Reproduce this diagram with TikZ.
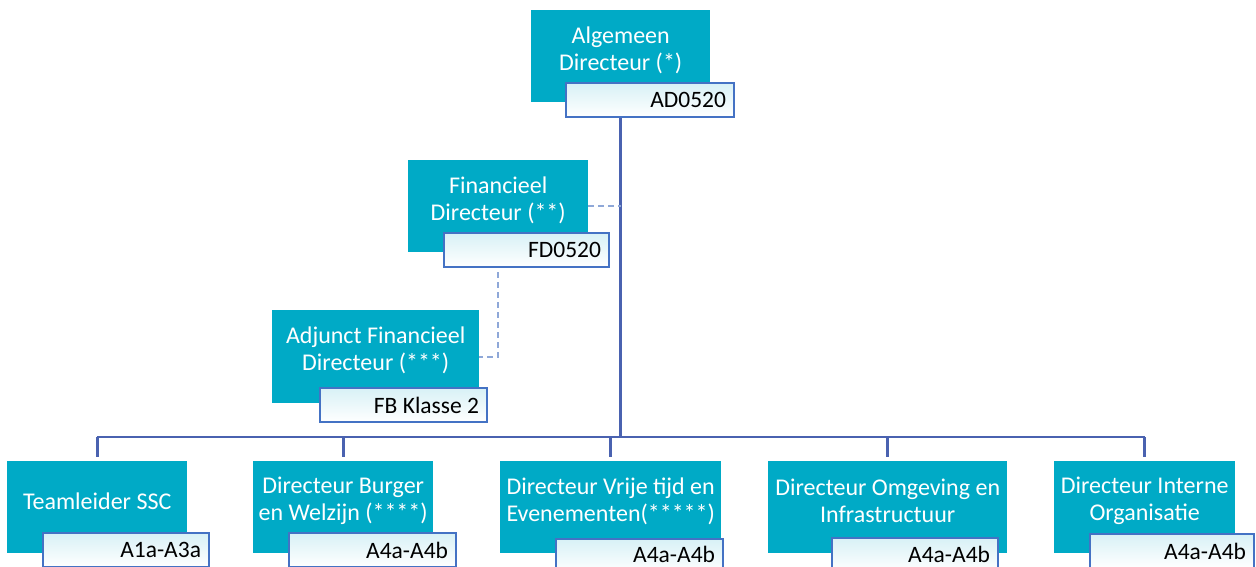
\documentclass[tikz,border=0pt]{standalone}
\usepackage{fontspec}
\setmainfont{Carlito}
\usetikzlibrary{backgrounds}
\definecolor{tealbox}{RGB}{0,170,198}
\definecolor{connc}{RGB}{74,98,176}
\definecolor{lblborder}{RGB}{68,114,196}
\definecolor{lblfill}{RGB}{216,241,246}
\definecolor{dashc}{RGB}{143,168,216}
\begin{document}
\begin{tikzpicture}[x=1pt,y=-1pt,
  box/.style={fill=tealbox, draw=none, anchor=north west, inner sep=0, minimum height=92pt},
  boxtext/.style={text=white, align=center, inner sep=0, font=\fontsize{24}{27}\selectfont},
  lbl/.style={draw=lblborder, line width=2.2pt, top color=lblfill, middle color=lblfill!85, bottom color=white, anchor=north west, inner sep=0, minimum height=34pt},
  lbltext/.style={anchor=east, font=\fontsize{23.5}{27}\selectfont, text=black, inner sep=0},
  conn/.style={draw=connc, line width=2.8pt},
  dashconn/.style={draw=dashc, line width=1.6pt, dash pattern=on 6pt off 4pt}]
\useasboundingbox (0,0) rectangle (1256,567);

% teal boxes
\node[box, minimum width=179pt] (ad) at (531,10) {};
\node[box, minimum width=180pt] (fd) at (408,160) {};
\node[box, minimum width=207pt, minimum height=93pt] (adj) at (272,310) {};
\node[box, minimum width=180pt] (tl) at (7,461) {};
\node[box, minimum width=180pt] (bw) at (253,461) {};
\node[box, minimum width=221pt] (vt) at (500,461) {};
\node[box, minimum width=239pt] (oi) at (768,461) {};
\node[box, minimum width=181pt] (io) at (1054,461) {};

% box texts
\node[boxtext] (adt) at ([yshift=6pt]ad.center) {Algemeen\\Directeur (*)};
\node[boxtext] (fdt) at ([yshift=6pt]fd.center) {Financieel\\Directeur (**)};
\node[boxtext] (adjt) at ([yshift=6pt]adj.center) {Adjunct Financieel\\Directeur (***)};
\node[boxtext] (tlt) at ([yshift=6pt]tl.center) {Teamleider SSC};
\node[boxtext] (bwt) at ([yshift=6pt]bw.center) {Directeur Burger\\en Welzijn (****)};
\node[boxtext] (vtt) at ([yshift=6pt]vt.center) {Directeur Vrije tijd en\\Evenementen(*****)};
\node[boxtext] (oit) at ([yshift=6pt]oi.center) {Directeur Omgeving en\\Infrastructuur};
\node[boxtext] (iot) at ([yshift=6pt]io.center) {Directeur Interne\\Organisatie};

% label boxes
\node[lbl, minimum width=168pt] (adl) at (565,82) {};
\node[lbl, minimum width=165pt] (fdl) at (443,232) {};
\node[lbl, minimum width=167pt] (adjl) at (319,387) {};
\node[lbl, minimum width=166pt] (tll) at (42,532) {};
\node[lbl, minimum width=167pt] (bwl) at (288,532) {};
\node[lbl, minimum width=167pt] (vtl) at (555,538) {};
\node[lbl, minimum width=166pt] (oil) at (831,537) {};
\node[lbl, minimum width=164pt] (iol) at (1089,533) {};

\node[lbltext] (adlt) at ([xshift=-9pt]adl.east) {AD0520};
\node[lbltext] (fdlt) at ([xshift=-9pt]fdl.east) {FD0520};
\node[lbltext] (adjlt) at ([xshift=-9pt]adjl.east) {FB Klasse 2};
\node[lbltext] (tllt) at ([xshift=-9pt]tll.east) {A1a-A3a};
\node[lbltext] (bwlt) at ([xshift=-9pt]bwl.east) {A4a-A4b};
\node[lbltext] (vtlt) at ([xshift=-9pt,yshift=2pt]vtl.east) {A4a-A4b};
\node[lbltext] (oilt) at ([xshift=-9pt,yshift=1pt]oil.east) {A4a-A4b};
\node[lbltext] (iolt) at ([xshift=-9pt]iol.east) {A4a-A4b};

\coordinate (bar) at (621,437);

\begin{pgfonlayer}{background}
\draw[conn] (ad.south) -- (ad.south |- bar);
\draw[conn] (tl.north |- bar) -- (io.north |- bar);
\foreach \n in {tl,bw,vt,oi,io}{
  \draw[conn] (\n.north |- bar) -- ([yshift=4pt]\n.north);
}
\draw[dashconn] (fd.east) -- (fd.east -| ad.south);
\draw[dashconn] (fd.south) -- (fd.south |- adj.east) -- (adj.east);
\end{pgfonlayer}
\end{tikzpicture}
\end{document}
